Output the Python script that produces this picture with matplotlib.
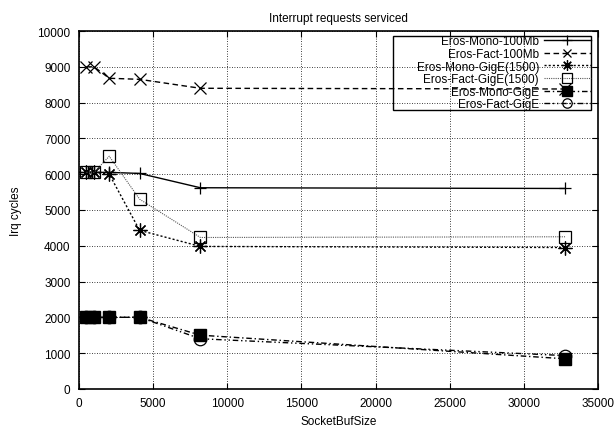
import matplotlib
matplotlib.use("Agg")
import matplotlib.pyplot as plt
from matplotlib.patches import Rectangle

plt.rcParams['font.family'] = ['Liberation Sans', 'DejaVu Sans']
plt.rcParams['font.size'] = 8.5

# socket buffer sizes
buf_sizes = [512, 1024, 2048, 4096, 8192, 32768]

mono_100mb = [6050, 6050, 6050, 6020, 5620, 5600]
fact_100mb = [9000, 9000, 8680, 8650, 8400, 8380]
mono_gige1500 = [6050, 6050, 6000, 4430, 3980, 3950]
fact_gige1500 = [6050, 6050, 6500, 5300, 4230, 4250]
mono_gige = [2000, 2000, 2000, 2000, 1500, 840]
fact_gige = [2000, 2000, 2000, 2000, 1400, 930]

labels = ["Eros-Mono-100Mb", "Eros-Fact-100Mb", "Eros-Mono-GigE(1500)",
          "Eros-Fact-GigE(1500)", "Eros-Mono-GigE", "Eros-Fact-GigE"]

fig = plt.figure(figsize=(6.16, 4.27), dpi=100)
ax = fig.add_axes([0.128, 0.087, 0.843, 0.838])

ms = 9
ax.plot(buf_sizes, mono_100mb, color="black", lw=1.0, ls="-",
        marker="+", ms=ms, mew=0.9, label=labels[0])
ax.plot(buf_sizes, fact_100mb, color="black", lw=1.0, dashes=(4, 2.5),
        marker="x", ms=ms - 1, mew=0.9, label=labels[1])
ax.plot(buf_sizes, mono_gige1500, color="black", lw=1.0, dashes=(1.5, 1.5),
        marker=(8, 2, 0), ms=ms + 1, mew=0.9, label=labels[2])
ax.plot(buf_sizes, fact_gige1500, color="0.35", lw=0.8, dashes=(1, 1),
        marker="s", ms=ms, mfc="none", mec="black", mew=0.9, label=labels[3])
ax.plot(buf_sizes, mono_gige, color="black", lw=1.0, dashes=(4, 2, 1, 2),
        marker="s", ms=ms, mfc="black", mec="black", label=labels[4])
ax.plot(buf_sizes, fact_gige, color="black", lw=1.0, dashes=(4, 2, 1, 2, 1, 2),
        marker="o", ms=ms, mfc="none", mec="black", mew=0.9, label=labels[5])

ax.set_xlim(0, 35000)
ax.set_ylim(0, 10000)
ax.set_xticks(range(0, 35001, 5000))
ax.set_yticks(range(0, 10001, 1000))
ax.tick_params(direction="in", top=True, right=True, length=4, width=0.8,
               labelsize=8.5, pad=6)
ax.grid(True, color="black", ls=(0, (1, 2)), lw=0.6)
for s in ax.spines.values():
    s.set_linewidth(1.2)

ax.set_title("Interrupt requests serviced", fontsize=8.5, pad=7)
ax.set_xlabel("SocketBufSize", fontsize=8.5, labelpad=4)
ax.set_ylabel("Irq cycles", fontsize=8.5, labelpad=11)

# gnuplot-style key: transparent, box wider than its text
leg = ax.legend(loc="upper right", bbox_to_anchor=(0.992, 0.996),
                borderaxespad=0, markerfirst=False, handlelength=4.0,
                handletextpad=0.4, labelspacing=0.05, borderpad=0.25,
                markerscale=0.75, frameon=False, fontsize=8.5)
ax.add_patch(Rectangle((0.605, 0.779), 0.3815, 0.207, transform=ax.transAxes,
                       fill=False, edgecolor="black", lw=1.0, zorder=5))

fig.savefig("out.png", dpi=100)
